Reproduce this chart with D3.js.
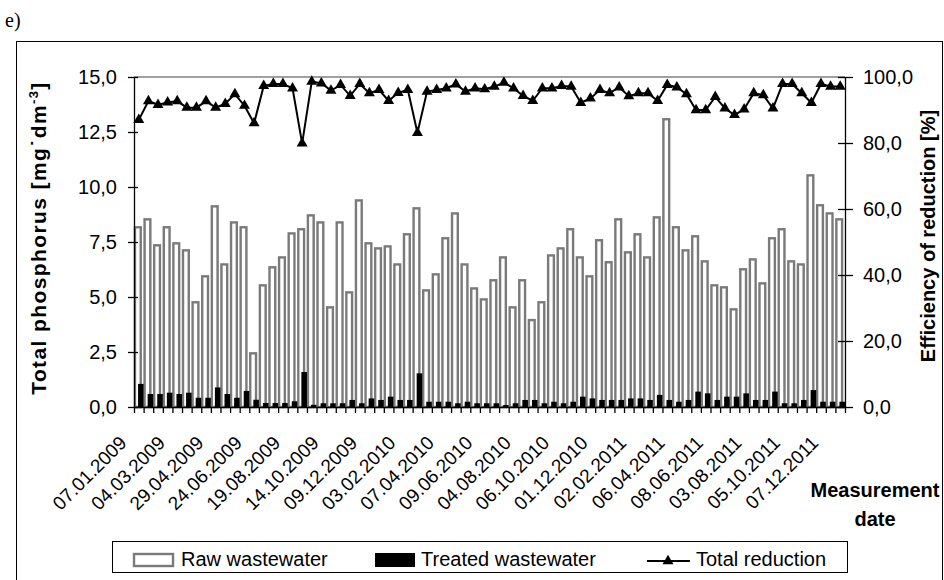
<!DOCTYPE html>
<meta charset="utf-8">
<title>Total phosphorus</title>
<style>
  body { margin: 0; background: #fff; }
  svg { display: block; font-family: "Liberation Sans", Arial, sans-serif; }
  .axis path, .axis line { stroke: #000; stroke-width: 1.3px; }
  .axis text { font-size: 20px; fill: #000; font-family: "Liberation Sans", Arial, sans-serif; }
  .title { font-size: 20px; font-weight: bold; }
  .legend text { font-size: 20px; }
</style>
<body>
<script src="https://cdn.jsdelivr.net/npm/d3@7"></script>
<script>

var width = 944,
    height = 580;

// raw wastewater, mg/dm3 (one value per measurement, biweekly)
var rawValues = [8.17, 8.53, 7.35, 8.17, 7.44, 7.12, 4.76, 5.94, 9.12, 6.48,
                 8.39, 8.17, 2.44, 5.53, 6.35, 6.80, 7.89, 8.08, 8.71, 8.39,
                 4.53, 8.39, 5.21, 9.39, 7.44, 7.21, 7.30, 6.48, 7.85, 9.03,
                 5.30, 6.03, 7.67, 8.80, 6.48, 5.39, 4.89, 5.76, 6.80, 4.53,
                 5.76, 3.95, 4.76, 6.89, 7.21, 8.08, 6.80, 5.94, 7.58, 6.58,
                 8.53, 7.03, 7.85, 6.80, 8.62, 13.08, 8.17, 7.12, 7.76, 6.62,
                 5.53, 5.44, 4.44, 6.26, 6.71, 5.62, 7.67, 8.08, 6.62, 6.48,
                 10.53, 9.17, 8.80, 8.53];

// treated wastewater, mg/dm3
var treatedValues = [1.05, 0.59, 0.59, 0.65, 0.59, 0.65, 0.42, 0.42, 0.89, 0.59,
                     0.42, 0.73, 0.33, 0.18, 0.18, 0.18, 0.26, 1.59, 0.10, 0.17,
                     0.17, 0.17, 0.32, 0.17, 0.39, 0.32, 0.47, 0.32, 0.32, 1.53,
                     0.24, 0.24, 0.24, 0.17, 0.24, 0.17, 0.17, 0.17, 0.09, 0.17,
                     0.32, 0.32, 0.17, 0.24, 0.17, 0.24, 0.47, 0.39, 0.32, 0.32,
                     0.32, 0.39, 0.39, 0.32, 0.55, 0.32, 0.24, 0.32, 0.70, 0.62,
                     0.32, 0.47, 0.47, 0.62, 0.32, 0.32, 0.70, 0.17, 0.17, 0.32,
                     0.77, 0.24, 0.24, 0.24];

// efficiency of reduction, %
var reductionValues = [87.0, 92.7, 91.6, 92.3, 92.7, 90.7, 90.7, 92.7, 90.7, 91.9,
                       94.8, 91.3, 86.0, 97.3, 97.9, 97.9, 96.6, 79.9, 98.6, 98.1,
                       95.9, 97.6, 94.3, 97.9, 95.1, 96.1, 92.8, 95.2, 96.1, 83.1,
                       95.6, 96.1, 96.6, 97.8, 95.6, 96.6, 96.3, 97.1, 98.3, 96.6,
                       94.3, 92.8, 96.6, 96.6, 97.3, 97.1, 92.2, 93.5, 96.1, 95.1,
                       96.9, 94.2, 95.1, 95.1, 92.8, 97.6, 96.9, 94.8, 90.0, 90.0,
                       94.0, 90.5, 88.5, 90.2, 95.1, 94.5, 90.5, 97.9, 97.9, 95.1,
                       92.2, 97.9, 97.1, 97.1];

// every 4th measurement is labelled
var dateLabels = ["07.01.2009", "04.03.2009", "29.04.2009", "24.06.2009", "19.08.2009",
                  "14.10.2009", "09.12.2009", "03.02.2010", "07.04.2010", "09.06.2010",
                  "04.08.2010", "06.10.2010", "01.12.2010", "02.02.2011", "06.04.2011",
                  "08.06.2011", "03.08.2011", "05.10.2011", "07.12.2011"];
var labelStep = 4;

var leftTicks = [0, 2.5, 5, 7.5, 10, 12.5, 15];
var rightTicks = [0, 20, 40, 60, 80, 100];

var legendNames = ["Raw wastewater", "Treated wastewater", "Total reduction"];

var plot = {left: 134, right: 845, top: 77, bottom: 407};

var svg = d3.select("body").append("svg")
    .attr("width", width)
    .attr("height", height);

var fmt = function(d) { return d.toFixed(1).replace(".", ","); };

var idx = d3.range(rawValues.length);

var x = d3.scaleBand()
    .domain(idx)
    .range([plot.left, plot.right])
    .padding(0);

var xEdge = d3.scaleLinear()
    .domain([0, idx.length])
    .range([plot.left, plot.right]);

var y = d3.scaleLinear()
    .domain([0, 15])
    .range([plot.bottom, plot.top]);

var y2 = d3.scaleLinear()
    .domain([0, 100])
    .range([plot.bottom, plot.top]);

// outer frame and panel letter
svg.append("rect")
    .attr("x", 16.5).attr("y", 41.5)
    .attr("width", 926).attr("height", 560)
    .attr("fill", "none").attr("stroke", "#000").attr("stroke-width", 1);

svg.append("text")
    .attr("x", 5).attr("y", 27)
    .style("font-family", "'Liberation Serif', 'Times New Roman', serif")
    .style("font-size", "20px")
    .text("e)");

// top border of plot area
svg.append("line")
    .attr("x1", plot.left).attr("x2", plot.right)
    .attr("y1", plot.top).attr("y2", plot.top)
    .attr("stroke", "#808080").attr("stroke-width", 1.5);

var bw = x.bandwidth();

// raw wastewater bars
svg.append("g").selectAll("rect")
    .data(rawValues)
    .enter().append("rect")
    .attr("x", function(d, i) { return x(i) + bw * 0.1; })
    .attr("y", function(d) { return y(d); })
    .attr("width", bw * 0.6)
    .attr("height", function(d) { return y(0) - y(d); })
    .attr("fill", "#fff")
    .attr("stroke", "#7a7a7a")
    .attr("stroke-width", 2.4);

// treated wastewater bars
svg.append("g").selectAll("rect")
    .data(treatedValues)
    .enter().append("rect")
    .attr("x", function(d, i) { return x(i) + bw * 0.42; })
    .attr("y", function(d) { return y(d); })
    .attr("width", bw * 0.58)
    .attr("height", function(d) { return y(0) - y(d); })
    .attr("fill", "#000");

// axes
var leftAxis = svg.append("g")
    .attr("class", "axis")
    .attr("transform", "translate(" + plot.left + ",0)")
    .call(d3.axisLeft(y).tickValues(leftTicks).tickFormat(fmt).tickSizeInner(6).tickSizeOuter(0).tickPadding(11));
leftAxis.selectAll(".tick line").attr("x2", -6).attr("x1", 4);

var rightAxis = svg.append("g")
    .attr("class", "axis")
    .attr("transform", "translate(" + plot.right + ",0)")
    .call(d3.axisRight(y2).tickValues(rightTicks).tickFormat(fmt).tickSizeInner(8).tickSizeOuter(0).tickPadding(10));
rightAxis.selectAll(".tick line").attr("x2", 8).attr("x1", -7);

svg.append("g")
    .attr("class", "axis")
    .attr("transform", "translate(0," + plot.bottom + ")")
    .call(d3.axisBottom(xEdge).tickValues(d3.range(idx.length + 1)).tickFormat("").tickSizeInner(6).tickSizeOuter(0));

// date labels
svg.append("g").selectAll("text")
    .data(dateLabels)
    .enter().append("text")
    .attr("transform", function(d, i) {
      var cx = x(i * labelStep) + bw / 2;
      return "translate(" + (cx - 11) + "," + (plot.bottom + 37) + ") rotate(-45)";
    })
    .attr("text-anchor", "end")
    .style("font-size", "19px")
    .text(function(d) { return d; });

// reduction line
var line = d3.line()
    .x(function(d, i) { return x(i) + bw / 2; })
    .y(function(d) { return y2(d); });

svg.append("path")
    .datum(reductionValues)
    .attr("d", line)
    .attr("fill", "none")
    .attr("stroke", "#000")
    .attr("stroke-width", 2);

var tri = d3.symbol().type(d3.symbolTriangle).size(52);

svg.append("g").selectAll("path")
    .data(reductionValues)
    .enter().append("path")
    .attr("d", tri)
    .attr("transform", function(d, i) { return "translate(" + (x(i) + bw / 2) + "," + y2(d) + ")"; })
    .attr("fill", "#000");

// axis titles
var lt = svg.append("text")
    .attr("class", "title")
    .attr("transform", "translate(46," + ((plot.top + plot.bottom) / 2 - 4) + ") rotate(-90)")
    .attr("text-anchor", "middle")
    .style("font-size", "21px")
    .style("letter-spacing", "1.4px");
lt.append("tspan").text("Total phosphorus [mg\u02D9dm");
lt.append("tspan").attr("dy", -8).style("font-size", "13px").text("-3");
lt.append("tspan").attr("dy", 8).text("]");

svg.append("text")
    .attr("class", "title")
    .attr("transform", "translate(935," + ((plot.top + plot.bottom) / 2 - 6) + ") rotate(-90)")
    .attr("text-anchor", "middle")
    .text("Efficiency of reduction [%]");

svg.append("text")
    .attr("class", "title")
    .attr("x", 875).attr("y", 497)
    .attr("text-anchor", "middle")
    .text("Measurement");
svg.append("text")
    .attr("class", "title")
    .attr("x", 875).attr("y", 526)
    .attr("text-anchor", "middle")
    .text("date");

// legend
var legend = svg.append("g").attr("class", "legend");
legend.append("rect")
    .attr("x", 112.5).attr("y", 541.5)
    .attr("width", 735).attr("height", 31)
    .attr("fill", "#fff").attr("stroke", "#000").attr("stroke-width", 1);

legend.append("rect")
    .attr("x", 134).attr("y", 554)
    .attr("width", 39).attr("height", 12)
    .attr("fill", "#fff").attr("stroke", "#7a7a7a").attr("stroke-width", 2.4);
legend.append("text").attr("x", 181).attr("y", 566).text(legendNames[0]);

legend.append("rect")
    .attr("x", 375).attr("y", 553)
    .attr("width", 40).attr("height", 14)
    .attr("fill", "#000");
legend.append("text").attr("x", 421).attr("y", 566).text(legendNames[1]);

legend.append("line")
    .attr("x1", 647).attr("x2", 690)
    .attr("y1", 561).attr("y2", 561)
    .attr("stroke", "#000").attr("stroke-width", 2);
legend.append("path")
    .attr("d", tri)
    .attr("transform", "translate(668,561)")
    .attr("fill", "#000");
legend.append("text").attr("x", 696).attr("y", 566).text(legendNames[2]);

</script>
</body>
